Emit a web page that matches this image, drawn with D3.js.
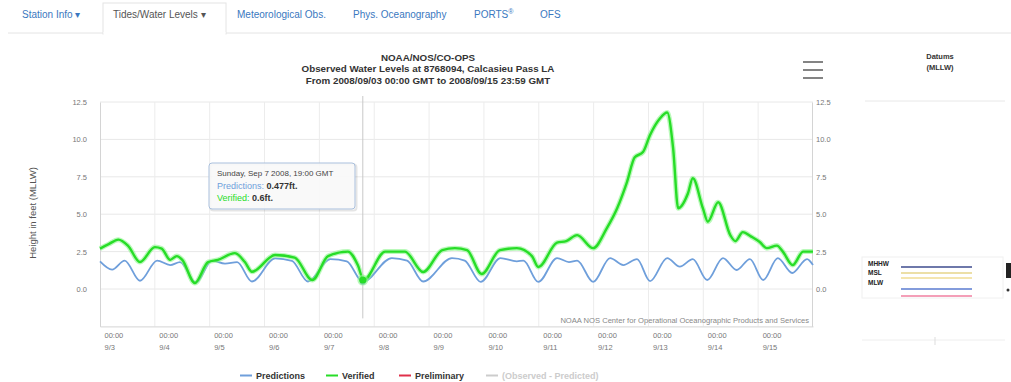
<!DOCTYPE html>
<html><head><meta charset="utf-8">
<script src="https://cdn.jsdelivr.net/npm/d3@7"></script>
<style>
body{margin:0;background:#fff;}
svg{display:block;font-family:"Liberation Sans",Arial,sans-serif;}
</style></head><body>
<svg id="c" width="1011" height="382"></svg>
<script>
// ---------- data ----------
const tabLabels = ["Station Info ▾", "Tides/Water Levels ▾", "Meteorological Obs.", "Phys. Oceanography", "PORTS", "OFS"];
const titleLines = ["NOAA/NOS/CO-OPS", "Observed Water Levels at 8768094, Calcasieu Pass LA", "From 2008/09/03 00:00 GMT to 2008/09/15 23:59 GMT"];
const yTicks = [0, 2.5, 5, 7.5, 10, 12.5];
const dayTickLabels = ["9/3","9/4","9/5","9/6","9/7","9/8","9/9","9/10","9/11","9/12","9/13","9/14","9/15"];
const timeTickLabel = "00:00";
// hours since 2008-09-03 00:00 GMT
const predHours = [0,5.3,10.8,17.5, 25,30.7,35,42, 49,54.7,60,66.5, 76.6,84,91, 100.8,108,115, 127.7,134.4,141.4, 154,159.6,166.6, 175.2,182.4,185.3,191.8, 200,205.2,208.8,215.8, 223.2,229,235,240.7, 248.2,253.7,259.4,265.7, 272.6,278.6,284.4,290.2, 296.6,302.9,309.4,312];
const predValues = [1.85,1.3,1.9,0.55, 1.9,1.6,1.8,0.42, 1.9,1.7,1.8,0.5, 2.05,1.88,0.5, 2.0,1.85,0.48, 2.07,1.9,0.5, 2.07,1.9,0.47, 2.07,1.85,1.9,0.47, 2.07,1.8,1.9,0.47, 2.07,1.6,2.0,0.53, 2.07,1.5,2.0,0.6, 2.07,1.27,2.0,0.6, 2.07,1.07,2.0,1.6];
const verHours = [0,3.8,8,12.2,17.5, 24,27,30.7,33.6,36, 41.5,47.3,51.6,59,63.4, 66.5,76.6,85.2,92.9,99.8, 108.5,112.8,115.4,124.8,133.4, 141.4,149.8,155.3,160.6,167, 175,182.4,189,191.8,200, 204,208.8,215.8,221.8,226.3, 230.6,234,237.6,240.7,245, 248.2,250.8,253,257.3,259.4, 263.8,266,270.5,275.8,278, 281.3,285,288.7,291.8,296.2, 298.8,303.1,307.7,312];
const verValues = [2.7,3.0,3.3,2.9,1.8, 2.8,2.7,1.95,2.2,1.95, 0.4,1.8,1.95,2.4,1.8, 1.15,2.27,2.1,0.6,2.2, 2.5,1.6,0.6,2.5,2.5, 1.14,2.6,2.73,2.6,1.0, 2.6,2.73,2.2,1.47,3.1, 3.2,3.6,2.73,4.07,5.4, 7.15,8.8,9.15,10.3,11.4, 11.8,9.4,5.4,6.4,7.4, 5.4,4.5,5.8,3.6,3.2, 3.8,3.5,3.14,2.73,2.9, 2.5,1.6,2.5,2.5];
const legendNames = ["Predictions", "Verified", "Preliminary", "(Observed - Predicted)"];
const tooltipHeader = "Sunday, Sep 7 2008, 19:00 GMT";
const tooltipHour = 115;
const tooltipPred = 0.477;
const tooltipVer = 0.6;
const creditText = "NOAA NOS Center for Operational Oceanographic Products and Services";
const datumNames = ["MHHW", "MHW", "MSL", "MLW", "MLLW"];
const datumValues = [2.0, 1.59, 1.24, 0.48, 0];
const datumLabelShown = ["MHHW", "MSL", "MLW"];

// ---------- layout / style ----------
const svg = d3.select("#c");
svg.append("rect").attr("width",1011).attr("height",382).attr("fill","#fff");
const L = 100, R = 813, T = 102, B = 326.4;
const t0 = Date.UTC(2008, 8, 3);
const hourToDate = h => new Date(t0 + h * 3600e3);
const x = d3.scaleUtc().domain([new Date(t0), new Date(t0 + 13 * 864e5)]).range([L, R]);
const y = d3.scaleLinear().domain([-2.5, 12.5]).range([B, T]);
const colPred = "#6f9fdb", colVer = "#27dd27", colPrel = "#e0304a";

// tabs
const tabX = [22, 113, 237, 353, 474, 540];
svg.append("line").attr("x1",8).attr("x2",1011).attr("y1",33).attr("y2",33).attr("stroke","#e4e4e4");
svg.append("rect").attr("x",103).attr("y",3).attr("width",123).attr("height",31).attr("fill","#fff").attr("stroke","#e4e4e4");
svg.append("rect").attr("x",103.5).attr("y",32).attr("width",122).attr("height",3).attr("fill","#fff");
tabLabels.forEach((t,i) => {
  const tx = svg.append("text").attr("x",tabX[i]).attr("y",18).attr("font-size",10)
    .attr("fill", i===1 ? "#555" : "#3a78c0").text(t);
  if (t === "PORTS") tx.append("tspan").attr("dy",-4).attr("font-size",7).text("®");
});

// title
titleLines.forEach((t,i) => {
  svg.append("text").attr("x",428).attr("y",60.5 + i*11.5).attr("text-anchor","middle")
    .attr("font-size",9.8).attr("font-weight","bold").attr("fill","#333").text(t);
});

// hamburger
[62,70,78].forEach(yy => svg.append("line").attr("x1",803).attr("x2",823).attr("y1",yy).attr("y2",yy)
  .attr("stroke","#777").attr("stroke-width",1.8));

// grid
const days = d3.utcDay.range(new Date(t0), new Date(t0 + 13 * 864e5));
svg.append("g").selectAll("line").data(yTicks).join("line")
  .attr("x1",L).attr("x2",R).attr("y1",d=>y(d)).attr("y2",d=>y(d)).attr("stroke","#e8e8e8");
svg.append("g").selectAll("line").data(days.slice(1)).join("line")
  .attr("x1",d=>x(d)).attr("x2",d=>x(d)).attr("y1",T).attr("y2",B).attr("stroke","#ececec");

// axes
const axL = svg.append("g").attr("transform",`translate(${L},0)`)
  .call(d3.axisLeft(y).tickValues(yTicks).tickFormat(d3.format(".1f")).tickSize(0).tickPadding(13));
const axR = svg.append("g").attr("transform",`translate(${R-1},0)`)
  .call(d3.axisRight(y).tickValues(yTicks).tickFormat(d3.format(".1f")).tickSize(0).tickPadding(4));
[axL, axR].forEach(a => {
  a.select(".domain").attr("stroke","#d4d4d4");
  a.selectAll("text").attr("font-size",7.5).attr("fill","#777").attr("font-family","Liberation Sans, Arial, sans-serif");
});
const axB = svg.append("g").attr("transform",`translate(0,${B})`)
  .call(d3.axisBottom(x).tickValues(days).tickFormat((d,i)=>dayTickLabels[i]).tickSize(0));
axB.select(".domain").attr("stroke","#d4d4d4");
axB.selectAll(".tick text").each(function(d,i){
  const s = d3.select(this);
  s.text(null).attr("text-anchor","start").attr("x",4).attr("y",0).attr("dy",0)
    .attr("font-size",7.5).attr("fill","#777").attr("font-family","Liberation Sans, Arial, sans-serif");
  s.append("tspan").attr("x",4).attr("y",12).text(timeTickLabel);
  s.append("tspan").attr("x",4).attr("y",24).text(dayTickLabels[i]);
});

// y title
svg.append("text").attr("transform","translate(36,213) rotate(-90)").attr("text-anchor","middle")
  .attr("font-size",9.5).attr("fill","#555").text("Height in feet (MLLW)");

// credit
svg.append("text").attr("x",809).attr("y",323).attr("text-anchor","end").attr("font-size",7.6)
  .attr("fill","#888").text(creditText);

// series
const predData = predHours.map((h,i)=>({t:hourToDate(h), v:predValues[i]}));
const verData = verHours.map((h,i)=>({t:hourToDate(h), v:verValues[i]}));
const line = d3.line().x(d=>x(d.t)).y(d=>y(d.v)).curve(d3.curveMonotoneX);
svg.append("path").attr("d",line(predData)).attr("fill","none").attr("stroke",colPred).attr("stroke-width",1.8);
svg.append("path").attr("d",line(verData)).attr("fill","none").attr("stroke","#8cf58c").attr("stroke-width",5).attr("opacity",0.6);
svg.append("path").attr("d",line(verData)).attr("fill","none").attr("stroke",colVer).attr("stroke-width",2.4);

// crosshair & markers
const cx = x(hourToDate(tooltipHour));
svg.append("line").attr("x1",cx).attr("x2",cx).attr("y1",T-6).attr("y2",B-8).attr("stroke","#c8c8c8").attr("stroke-width",1);
svg.append("circle").attr("cx",cx).attr("cy",y(tooltipPred)).attr("r",3).attr("fill",colPred);
svg.append("circle").attr("cx",cx).attr("cy",y(tooltipVer)).attr("r",5.5).attr("fill","#8cf58c").attr("opacity",0.6);
svg.append("circle").attr("cx",cx).attr("cy",y(tooltipVer)).attr("r",3.6).attr("fill",colVer);

// tooltip
const tt = svg.append("g").attr("transform","translate(209,163)");
tt.append("rect").attr("x",1.5).attr("y",1.5).attr("width",146).attr("height",46).attr("rx",3).attr("fill","none").attr("stroke","rgba(0,0,0,0.1)").attr("stroke-width",2);
tt.append("rect").attr("width",146).attr("height",46).attr("rx",3).attr("fill","rgba(248,248,248,0.9)").attr("stroke","#a9bfdc");
tt.append("text").attr("x",8).attr("y",13).attr("font-size",8).attr("fill","#444").text(tooltipHeader);
const r1 = tt.append("text").attr("x",8).attr("y",26).attr("font-size",9);
r1.append("tspan").attr("fill",colPred).text("Predictions: ");
r1.append("tspan").attr("fill","#333").attr("font-weight","bold").text(tooltipPred + "ft.");
const r2 = tt.append("text").attr("x",8).attr("y",38).attr("font-size",9);
r2.append("tspan").attr("fill",colVer).text("Verified: ");
r2.append("tspan").attr("fill","#333").attr("font-weight","bold").text(tooltipVer + "ft.");

// legend
const legX = [240, 326, 399, 486];
const legCol = [colPred, colVer, colPrel, "#cccccc"];
legendNames.forEach((n,i) => {
  svg.append("line").attr("x1",legX[i]).attr("x2",legX[i]+12).attr("y1",375.5).attr("y2",375.5)
    .attr("stroke",legCol[i]).attr("stroke-width",2);
  svg.append("text").attr("x",legX[i]+16).attr("y",379).attr("font-size",9).attr("font-weight","bold")
    .attr("fill", i===3 ? "#cccccc" : "#333").text(n);
});

// datums panel
svg.append("text").attr("x",940).attr("y",59).attr("text-anchor","middle").attr("font-size",7.5).attr("font-weight","bold").attr("fill","#333").text("Datums");
svg.append("text").attr("x",940).attr("y",70).attr("text-anchor","middle").attr("font-size",7.5).attr("font-weight","bold").attr("fill","#333").text("(MLLW)");
svg.append("line").attr("x1",865).attr("x2",1005).attr("y1",101).attr("y2",101).attr("stroke","#e8e8e8");
svg.append("rect").attr("x",862).attr("y",257).attr("width",141).attr("height",41).attr("fill","none").attr("stroke","#f0f0f0");
const yD = d3.scaleLinear().domain([0, 2]).range([296, 267]);
const datumCol = ["#3e4b8e", "#e6d48a", "#f0dc94", "#5a7bd0", "#f07fa0"];
datumNames.forEach((n,i) => {
  svg.append("line").attr("x1",901).attr("x2",972).attr("y1",yD(datumValues[i])).attr("y2",yD(datumValues[i]))
    .attr("stroke",datumCol[i]).attr("stroke-width",1.6);
});
const datumLabelY = [264, 273, 283];
datumLabelShown.forEach((n,i) => {
  svg.append("text").attr("x",868).attr("y",datumLabelY[i]+2).attr("font-size",6.5).attr("font-weight","bold").attr("fill","#222").text(n);
});
svg.append("rect").attr("x",1006).attr("y",263).attr("width",5).attr("height",15).attr("fill","#222");
svg.append("circle").attr("cx",1008).attr("cy",290).attr("r",1.5).attr("fill","#333");
svg.append("line").attr("x1",862).attr("x2",1005).attr("y1",340).attr("y2",340).attr("stroke","#eeeeee");
svg.append("line").attr("x1",935).attr("x2",935).attr("y1",337).attr("y2",345).attr("stroke","#dddddd");
</script>
</body></html>
